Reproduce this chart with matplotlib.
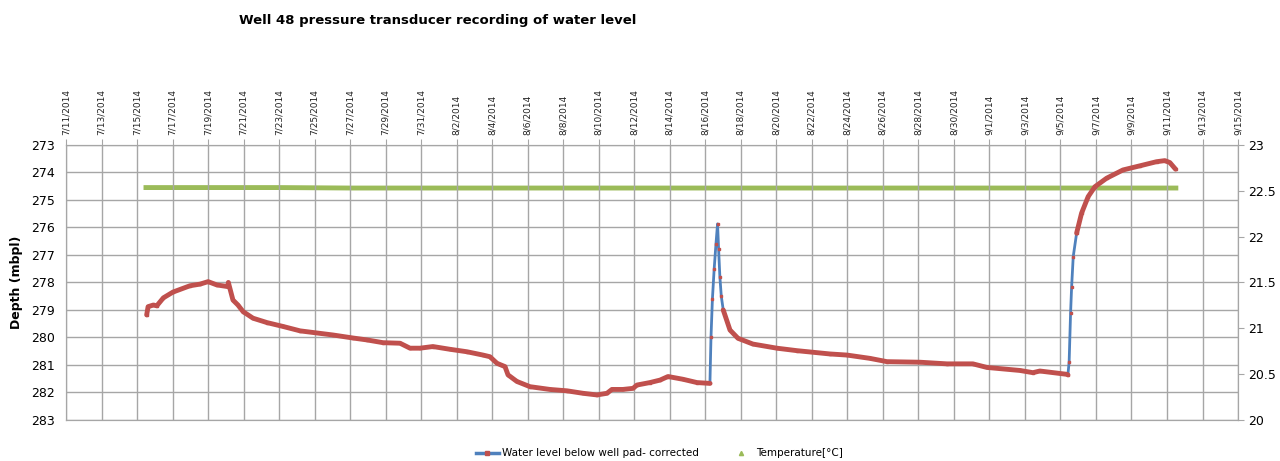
import numpy as np
import matplotlib.pyplot as plt
from matplotlib.lines import Line2D

NARROW = ['Liberation Sans Narrow', 'DejaVu Sans']

# days since 7/11/2014 and depth below well pad (m)
wl_day = [4.54, 4.62, 4.92, 5.11, 5.48, 6.02, 6.98, 7.55, 8.00, 8.49, 9.10, 9.14,
          9.40, 9.68, 9.97, 10.53, 11.32, 12.22, 13.18, 15.03, 16.16, 16.95, 17.85,
          18.81, 19.37, 19.93, 20.66, 21.62, 22.58, 23.48, 23.87, 24.27, 24.72,
          24.89, 25.39, 26.13, 27.25, 28.21, 29.11, 29.90, 30.46, 30.74, 31.36,
          31.93, 32.15, 32.88, 33.45, 33.90, 34.74, 35.53, 36.26, 36.32, 36.40,
          36.50, 36.60, 36.69, 36.75, 36.82, 36.90, 37.01, 37.39, 37.84, 38.68,
          40.03, 41.16, 43.02, 43.98, 45.27, 46.23, 48.09, 49.61, 51.07, 51.86,
          53.72, 54.45, 54.84, 56.36, 56.42, 56.49, 56.57, 56.63, 56.72, 56.91,
          57.19, 57.56, 57.94, 58.60, 59.52, 60.47, 61.41, 61.88, 62.16, 62.48]
wl_depth = [279.18, 278.88, 278.82, 278.85, 278.56, 278.35, 278.12, 278.06, 277.97,
            278.09, 278.15, 278.00, 278.64, 278.82, 279.06, 279.30, 279.46, 279.60,
            279.76, 279.91, 280.02, 280.09, 280.19, 280.21, 280.39, 280.39, 280.33,
            280.43, 280.52, 280.64, 280.70, 280.94, 281.06, 281.36, 281.60, 281.79,
            281.89, 281.94, 282.03, 282.09, 282.03, 281.89, 281.89, 281.85, 281.73,
            281.64, 281.55, 281.42, 281.52, 281.64, 281.67, 280.00, 278.60, 277.50,
            276.60, 275.87, 276.80, 277.79, 278.50, 279.00, 279.73, 280.03, 280.24,
            280.39, 280.48, 280.60, 280.64, 280.76, 280.88, 280.90, 280.96, 280.96,
            281.09, 281.20, 281.28, 281.22, 281.34, 281.36, 280.88, 279.12, 278.15,
            277.06, 276.21, 275.48, 274.88, 274.52, 274.21, 273.91, 273.76, 273.61,
            273.57, 273.64, 273.88]

temp_day = [4.5, 8, 12, 16, 20, 25, 30, 35, 40, 45, 50, 55, 60, 62.5]
temp_c = [22.535, 22.535, 22.535, 22.53, 22.53, 22.53, 22.53, 22.53, 22.53, 22.53,
          22.53, 22.53, 22.53, 22.53]

date_labels = ['7/11/2014', '7/13/2014', '7/15/2014', '7/17/2014', '7/19/2014',
               '7/21/2014', '7/23/2014', '7/25/2014', '7/27/2014', '7/29/2014',
               '7/31/2014', '8/2/2014', '8/4/2014', '8/6/2014', '8/8/2014',
               '8/10/2014', '8/12/2014', '8/14/2014', '8/16/2014', '8/18/2014',
               '8/20/2014', '8/22/2014', '8/24/2014', '8/26/2014', '8/28/2014',
               '8/30/2014', '9/1/2014', '9/3/2014', '9/5/2014', '9/7/2014',
               '9/9/2014', '9/11/2014', '9/13/2014', '9/15/2014']

BLUE = '#4f81bd'
RED = '#c0504d'
GREEN = '#9bbb59'
GRID = '#a6a6a6'

fig = plt.figure(figsize=(12.8, 4.61), dpi=100)
ax = fig.add_axes([0.0516, 0.089, 0.9156, 0.5966])

x = np.array(wl_day)
y = np.array(wl_depth)

# red trace everywhere except the steep jumps, where the blue line shows
rx, ry = [x[0]], [y[0]]
for i in range(1, len(x)):
    if abs(y[i] - y[i - 1]) / (x[i] - x[i - 1]) > 4:
        rx.append(np.nan)
        ry.append(np.nan)
    rx.append(x[i])
    ry.append(y[i])

ax.plot(x, y, color=BLUE, lw=2, zorder=3)
ax.plot(rx, ry, color=RED, lw=3.5, zorder=4, solid_capstyle='round')
ax.plot(x, y, ls='none', marker='s', ms=2, color=RED, zorder=4)

ax.set_xlim(0, 66)
ax.set_ylim(283, 273)
ax.set_yticks(np.arange(273, 284, 1))
ax.set_xticks(np.arange(0, 67, 2))
ax.set_xticklabels(date_labels, rotation=90, fontsize=6.5, color='#222222')
ax.xaxis.tick_top()
ax.tick_params(axis='x', length=4, color=GRID, pad=3)
ax.tick_params(axis='y', length=0, pad=8, labelsize=9)
for lab in ax.get_yticklabels():
    lab.set_family(NARROW)
ax.grid(True, color=GRID, lw=1)
for s in ax.spines.values():
    s.set_color(GRID)
ax.set_ylabel('Depth (mbpl)', fontsize=9, fontweight='bold', labelpad=6)

ax2 = ax.twinx()
ax2.plot(temp_day, temp_c, color=GREEN, lw=3.5, zorder=2)
ax2.set_ylim(20, 23)
ax2.set_yticks(np.arange(20, 23.01, 0.5))
ax2.set_yticklabels(['20', '20.5', '21', '21.5', '22', '22.5', '23'])
ax2.tick_params(axis='y', length=4, color=GRID, labelsize=9)
for lab in ax2.get_yticklabels():
    lab.set_family(NARROW)
for s in ax2.spines.values():
    s.set_color(GRID)
ax.set_zorder(ax2.get_zorder() + 1)
ax.patch.set_visible(False)

handles = [Line2D([], [], color=BLUE, lw=2.5, marker='s', ms=2.5,
                  mfc=RED, mec=RED, markevery=[1]),
           Line2D([], [], ls='none', marker='^', ms=3, color=GREEN)]
fig.legend(handles, ['Water level below well pad- corrected', 'Temperature[°C]'],
           loc='center', bbox_to_anchor=(0.515, 0.017), ncol=2, frameon=False,
           prop={'family': NARROW, 'size': 7.5}, columnspacing=3,
           handlelength=2.2, handletextpad=0.3)

fig.text(0.342, 0.955, 'Well 48 pressure transducer recording of water level',
         ha='center', va='center', fontsize=9.5, fontweight='bold',
         family=NARROW)

fig.savefig('out.png', dpi=100)
